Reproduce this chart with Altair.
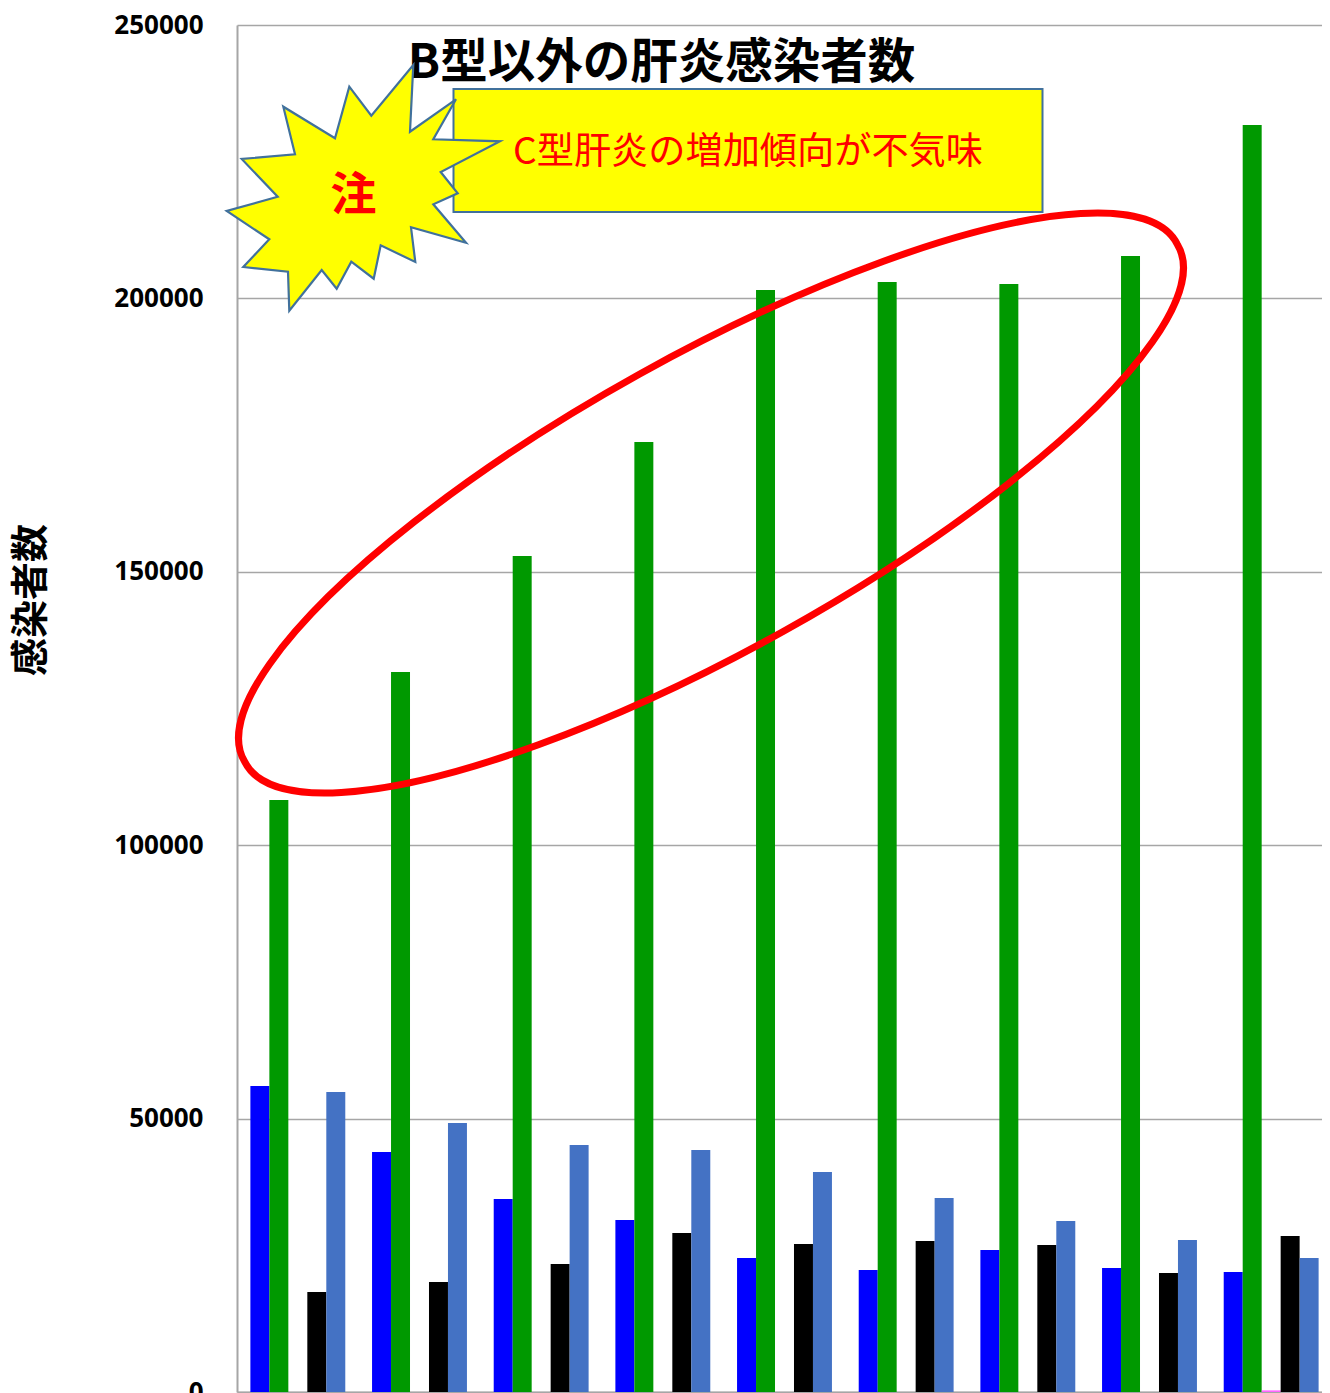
import altair as alt
import pandas as pd

groups = ["1", "2", "3", "4", "5", "6", "7", "8", "9"]
series_names = ["A", "C", "D", "E", "X"]
series_colors = ["#0000FF", "#009900", "#FF66FF", "#000000", "#4472C4"]
blue = [55960, 43890, 35300, 31460, 24500, 22310, 25970, 22680, 21950]
green = [108260, 131670, 152890, 173730, 201530, 202990, 202630, 207750, 231700]
pink = [0, 0, 0, 0, 0, 0, 0, 0, 300]
black = [18290, 20120, 23410, 29080, 27070, 27610, 26880, 21760, 28530]
steel = [54860, 49190, 45170, 44260, 40230, 35480, 31270, 27800, 24500]
tick_values = [0, 50000, 100000, 150000, 200000, 250000]

title_text = "B型以外の肝炎感染者数"
note_text = "C型肝炎の増加傾向が不気味"
star_text = "注"
y_title = "感染者数"

rows = []
for name, vals in zip(series_names, [blue, green, pink, black, steel]):
    for g, v in zip(groups, vals):
        rows.append({"group": g, "series": name, "value": v})
df = pd.DataFrame(rows)

W, H = 1085, 1367
L, T = 237, 25
FONT = "Noto Sans CJK JP"
GRAY = "#A6A6A6"

bars = alt.Chart(df).mark_bar().encode(
    x=alt.X("group:N", sort=groups, title=None,
            scale=alt.Scale(paddingInner=0.22, paddingOuter=0.11, range=[0, 1095]),
            axis=alt.Axis(labels=False, ticks=False, domainColor=GRAY, domainWidth=2, grid=False)),
    xOffset=alt.XOffset("series:N", sort=series_names, scale=alt.Scale(paddingInner=0, paddingOuter=0)),
    y=alt.Y("value:Q", title=None, scale=alt.Scale(domain=[0, 250000], nice=False),
            axis=alt.Axis(values=tick_values, format="d", labelFont="Open Sans", labelFontWeight="bold",
                          labelFontSize=26, labelColor="#000000", labelPadding=34, ticks=False,
                          domainColor=GRAY, domainWidth=2, gridColor=GRAY, gridWidth=1.3,
                          labelOverlap=False, labelBound=False)),
    color=alt.Color("series:N", sort=series_names, legend=None,
                    scale=alt.Scale(domain=series_names, range=series_colors)),
)


def one():
    return alt.Data(values=[{"k": 1}])


def shape(path, px, py, fill=None, stroke=None, width=2.0):
    kw = dict(shape=path, size=4, opacity=1, strokeWidth=width, filled=fill is not None)
    if fill:
        kw["fill"] = fill
    if stroke:
        kw["stroke"] = stroke
    return alt.Chart(one()).mark_point(**kw).encode(x=alt.value(px - L), y=alt.value(py - T))


def label(text, px, py, size, color, weight="bold", **extra):
    return alt.Chart(one()).mark_text(text=text, font=FONT, fontWeight=weight, fontSize=size, color=color,
                                      align="center", baseline="middle", **extra).encode(
        x=alt.value(px - L), y=alt.value(py - T))


star_pts = [(413.3, 65), (410, 131.7), (456, 99.3), (433.3, 139.3), (500, 141.3), (440.7, 172), (457.7, 193.3),
            (433.3, 204.3), (466, 242.7), (411, 227.3), (415.3, 262), (380.7, 245.3), (373.7, 278.7), (351.3, 261.7),
            (336.7, 288.7), (321.7, 270), (289.3, 310.7), (288, 271.7), (243.3, 267), (269.3, 239.3), (226.7, 211),
            (277.7, 196.7), (241.7, 159), (295, 154.3), (283.3, 106.7), (335, 138.3), (349.3, 86.7), (371.3, 115.7)]
SX, SY = 350, 190
star_path = "M" + " L".join(f"{x - SX:.1f} {y - SY:.1f}" for x, y in star_pts) + " Z"
rect_path = "M-294.5 -61.5 L294.5 -61.5 L294.5 61.5 L-294.5 61.5 Z"
ell_path = ("M-466.2 258.9 A533.3 145.7 -29.04 1 0 466.2 -258.9 "
            "A533.3 145.7 -29.04 1 0 -466.2 258.9 Z")

chart = alt.layer(
    bars,
    label(title_text, 661.5, 63.5, 47.5, "#000000"),
    shape(rect_path, 748, 150.5, fill="#FFFF00", stroke="#41719C", width=2),
    label(note_text, 748, 153, 37.2, "#FF0000", weight="normal"),
    shape(star_path, SX, SY, fill="#FFFF00", stroke="#41719C", width=2.2),
    label(star_text, 353.5, 196, 46, "#FF0000"),
    shape(ell_path, 711, 503, stroke="#FF0000", width=7),
    label(y_title, 31.5, 600, 38, "#000000", angle=270),
).properties(
    width=W, height=H,
    autosize=alt.AutoSizeParams(type="none"),
    padding={"left": L - 8, "top": T - 8, "right": 0, "bottom": 1},
).configure_view(stroke=None).configure_axis(gridOpacity=1)

chart.save("out.html", embed_options={"renderer": "svg", "actions": False})
